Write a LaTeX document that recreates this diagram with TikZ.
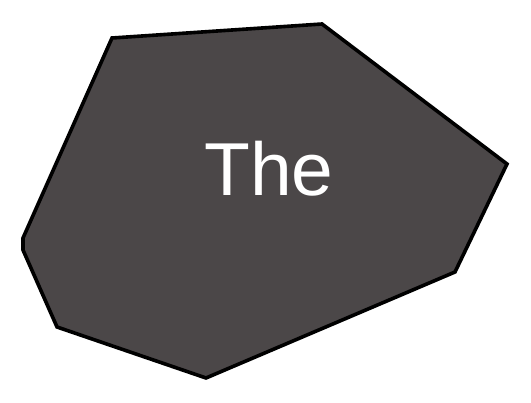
\documentclass[tikz,border=0pt]{standalone}
\usepackage{fontspec}
\setmainfont{Liberation Sans}
\usepackage{xcolor}
\definecolor{blobGray}{RGB}{75,71,72}

\begin{document}
\begin{tikzpicture}[x=1pt, y=-1pt]
    \useasboundingbox (0,0) rectangle (531,403);
    \draw[fill=blobGray, line width=3.6pt, line join=miter]
      (112,38) -- (322,24) -- (507,164) -- (455,272) -- (206,378)
      -- (57,327) -- (23,250) -- (23,238) -- cycle;
    \node[text=white, font=\fontsize{75}{80}\selectfont, anchor=base,
          inner sep=0pt] (word) at (269,196) {The};
  \end{tikzpicture}
\end{document}
